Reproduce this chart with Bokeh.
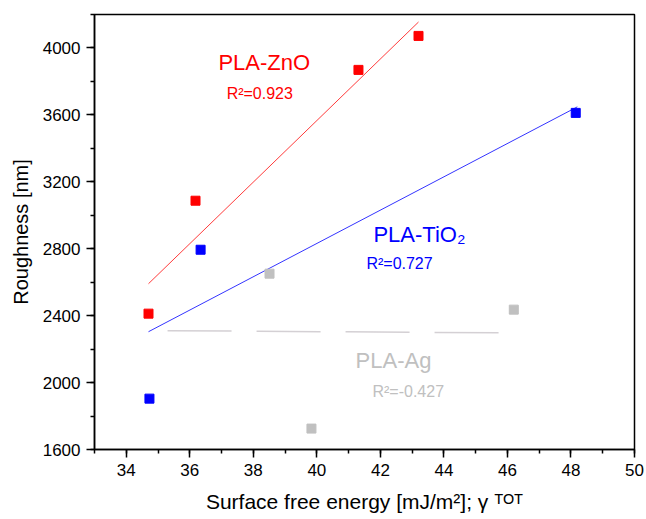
from bokeh.plotting import figure
from bokeh.models import ColumnDataSource, Range1d, FixedTicker
from bokeh.core.properties import value
from bokeh.embed import file_html
from bokeh.resources import INLINE

# ---- data ----
zno_x = [34.70, 36.18, 41.31, 43.20]
zno_y = [2412, 3087, 3869, 4072]
tio2_x = [34.73, 36.34, 48.15]
tio2_y = [1904, 2794, 3612]
ag_x = [38.51, 39.83, 46.20]
ag_y = [2651, 1725, 2436]

# fitted lines (end points)
zno_fit_x = [34.70, 43.20]
zno_fit_y = [2591, 4155]
tio2_fit_x = [34.70, 48.20]
tio2_fit_y = [2304, 3648]
ag_fit_x = [35.30, 46.20]
ag_fit_y = [2310, 2297]

x_ticks = [34, 36, 38, 40, 42, 44, 46, 48, 50]
y_ticks = [1600, 2000, 2400, 2800, 3200, 3600, 4000]

names = ["PLA-ZnO", "PLA-TiO₂", "PLA-Ag"]
r2_labels = ["R²=0.923", "R²=0.727", "R²=-0.427"]
name_x = [36.90, 41.78, 41.22]
name_y = [3916, 2887, 2131]
r2_x = [37.16, 41.56, 41.75]
r2_y = [3725, 2710, 1946]

RED = "#ff0000"
BLUE = "#0000ff"
GREY = "#c0c0c0"
colors = [RED, BLUE, GREY]
FONT = "Liberation Sans"

p = figure(width=644, height=517, output_backend="svg", toolbar_location=None,
           x_range=Range1d(33, 50), y_range=Range1d(1600, 4200),
           min_border_left=94, min_border_right=10, min_border_top=14, min_border_bottom=68)

p.background_fill_color = "white"
p.border_fill_color = "white"
p.xgrid.visible = False
p.ygrid.visible = False
p.outline_line_color = "black"
p.outline_line_width = 1.5
p.outline_line_alpha = 1.0

# fit lines
p.line(zno_fit_x, zno_fit_y, line_color="#ff3b3b", line_width=1)
p.line(tio2_fit_x, tio2_fit_y, line_color="#3434ff", line_width=1)
p.line(ag_fit_x, ag_fit_y, line_color="#d4d0d4", line_width=1.5, line_dash="64 25")

# points
p.scatter(zno_x, zno_y, marker="square", size=9, fill_color=RED, line_color=RED)
p.scatter(tio2_x, tio2_y, marker="square", size=9, fill_color=BLUE, line_color=BLUE)
p.scatter(ag_x, ag_y, marker="square", size=9, fill_color=GREY, line_color=GREY)

# annotations
src_names = ColumnDataSource(dict(x=name_x, y=name_y, t=names, c=colors))
p.text(x="x", y="y", text="t", text_color="c", source=src_names,
       text_font=value(FONT), text_font_size="22px",
       text_align="left", text_baseline="middle")
src_r2 = ColumnDataSource(dict(x=r2_x, y=r2_y, t=r2_labels, c=colors))
p.text(x="x", y="y", text="t", text_color="c", source=src_r2,
       text_font=value(FONT), text_font_size="16px",
       text_align="left", text_baseline="middle")

# axes
for ax in (p.xaxis[0], p.yaxis[0]):
    ax.axis_line_width = 1.5
    ax.axis_line_color = "black"
    ax.major_tick_line_width = 1.5
    ax.minor_tick_line_width = 1.5
    ax.major_tick_in = 0
    ax.major_tick_out = 8
    ax.minor_tick_in = 0
    ax.minor_tick_out = 4
    ax.major_label_text_font = FONT
    ax.major_label_text_font_size = "17px"
    ax.major_label_text_color = "black"
    ax.axis_label_text_font = FONT
    ax.axis_label_text_font_size = "20px"
    ax.axis_label_text_font_style = "normal"
    ax.axis_label_text_color = "black"

p.xaxis[0].axis_label_text_font_size = "21px"
p.xaxis[0].ticker = FixedTicker(ticks=x_ticks, minor_ticks=list(range(33, 51)))
p.yaxis[0].ticker = FixedTicker(ticks=y_ticks, minor_ticks=list(range(1600, 4201, 200)))
p.xaxis[0].axis_label = "Surface free energy [mJ/m²]; γ ᵀᴼᵀ"
p.yaxis[0].axis_label = "Roughness [nm]"
p.xaxis[0].major_label_standoff = 6
p.yaxis[0].major_label_standoff = 6
p.xaxis[0].axis_label_standoff = 11
p.yaxis[0].axis_label_standoff = 8

open("out.html", "w").write(file_html(p, INLINE))
